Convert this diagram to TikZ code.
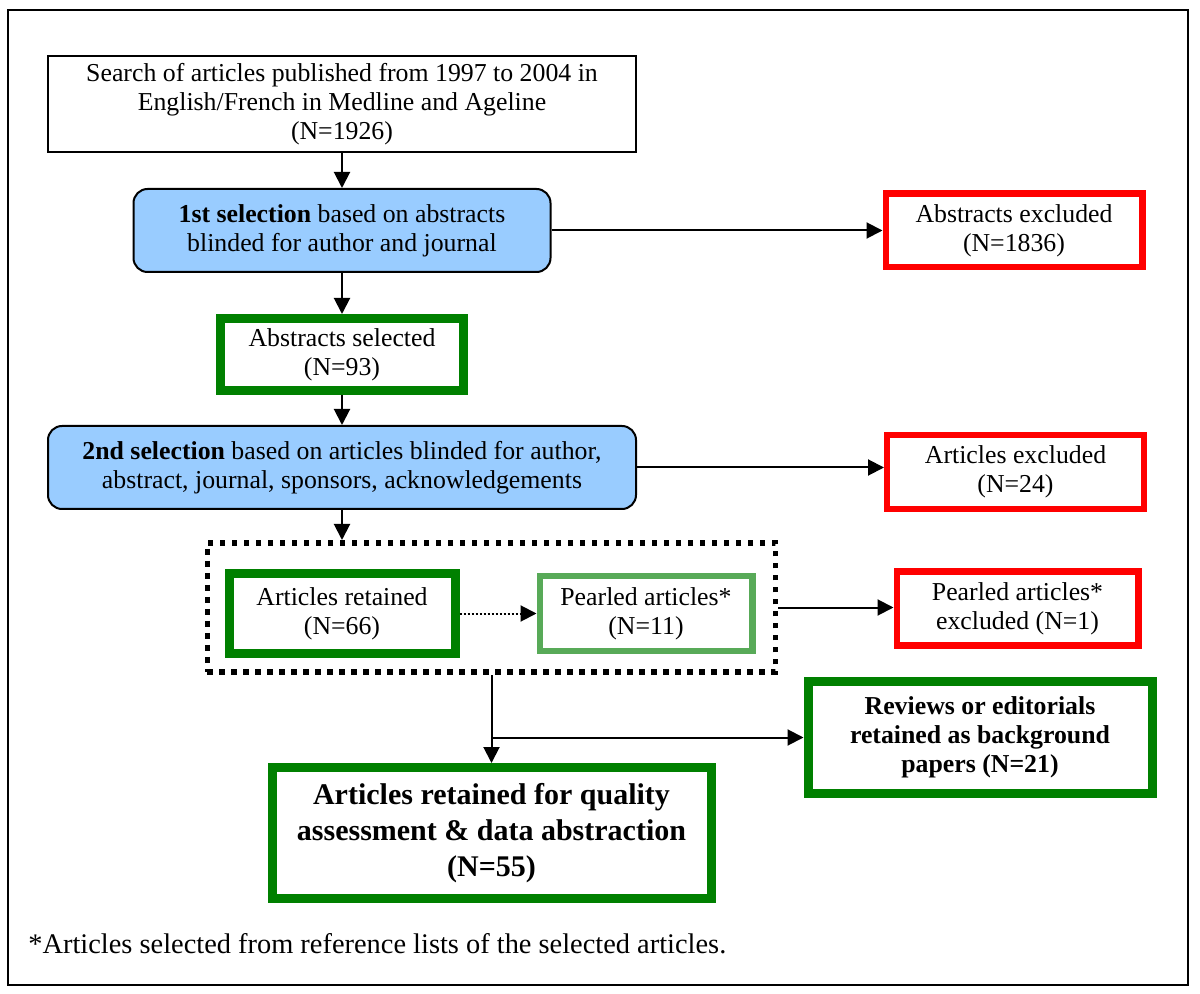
\documentclass[tikz,border=0pt]{standalone}
\usepackage{fontspec}
\setmainfont{Liberation Serif}
\usepackage{xcolor}
\usetikzlibrary{arrows.meta,positioning,fit}

\definecolor{selblue}{RGB}{153,204,255}
\definecolor{keepgreen}{RGB}{0,128,0}
\definecolor{pearlgreen}{RGB}{88,170,88}
\definecolor{dropred}{RGB}{255,0,0}

\begin{document}
\begin{tikzpicture}[
  x=0.5pt, y=-0.5pt,
  font=\fontsize{12.9}{14.5}\selectfont,
  plainbox/.style={draw, line width=1pt, align=center, inner sep=2pt},
  selbox/.style={rounded corners=7pt, draw, line width=1pt, fill=selblue, align=center, inner sep=2pt},
  keepbox/.style={draw=keepgreen, line width=4.5pt, align=center, inner sep=2pt},
  dropbox/.style={draw=dropred, line width=3.2pt, align=center, inner sep=2pt, minimum width=128.3pt, minimum height=36.8pt},
  arrow/.style={-{Triangle[length=8pt,width=8pt]}, line width=1pt}
]
  \useasboundingbox (0,0) rectangle (1200,994);
  \draw[line width=1pt] (8,10) rectangle (1188,985);

  % Main vertical flow
  \node[plainbox, minimum width=294pt, minimum height=48pt] (search) at (342,104) {Search of articles published from 1997 to 2004 in\\ English/French in Medline and Ageline\\ (N=1926)};
  \node[selbox, minimum width=208.5pt, minimum height=41.5pt, below=17.5pt of search] (sel1) {\textbf{1st selection} based on abstracts\\ blinded for author and journal};
  \node[keepbox, minimum width=121.5pt, minimum height=36pt, below=20.5pt of sel1] (abssel) {Abstracts selected\\ (N=93)};
  \node[selbox, minimum width=294pt, minimum height=41.5pt, below=15pt of abssel] (sel2) {\textbf{2nd selection} based on articles blinded for author,\\ abstract, journal, sponsors, acknowledgements};
  \node[keepbox, minimum width=113pt, minimum height=40pt, below=29.5pt of sel2] (retained) {Articles retained\\ (N=66)};
  \node[keepbox, draw=pearlgreen, line width=3.2pt, minimum width=106.3pt, minimum height=37.3pt, right=38.5pt of retained] (pearled) {Pearled articles*\\ (N=11)};
  \node[draw, line width=2.8pt, dash pattern=on 2.8pt off 3.2pt, inner xsep=9.3pt, inner ysep=10.1pt, xshift=0.75pt, yshift=3pt, fit=(retained)(pearled)] (dotbox) {};
  \node[keepbox, minimum width=219.5pt, minimum height=65.5pt, font=\fontsize{15}{18}\selectfont\bfseries, below=44pt of dotbox] (final) {Articles retained for quality\\ assessment \& data abstraction\\ (N=55)};

  % Exclusions and side outputs
  \node[dropbox, right=165.5pt of sel1] (absexcl) {Abstracts excluded\\ (N=1836)};
  \node[dropbox, right=123.5pt of sel2, yshift=-2.25pt] (artexcl) {Articles excluded\\ (N=24)};
  \node[dropbox, minimum width=120.8pt, right=69pt of pearled, yshift=2.5pt] (pexcl) {Pearled articles*\\ excluded (N=1)};
  \node[keepbox, minimum width=172pt, minimum height=56pt, font=\fontsize{12.9}{14.5}\selectfont\bfseries, right=44pt of final, yshift=47.75pt] (reviews) {Reviews or editorials\\ retained as background\\ papers (N=21)};

  % Footnote
  \node[anchor=base west, inner sep=0pt, font=\fontsize{14.2}{16}\selectfont] (note) at (28,953) {*Articles selected from reference lists of the selected articles.};

  \draw[arrow] (search) -- (sel1);
  \draw[arrow] (sel1) -- (absexcl);
  \draw[arrow] (sel1) -- (abssel);
  \draw[arrow] (abssel) -- (sel2);
  \draw[arrow] (sel2.east) -- (sel2.east -| artexcl.west);
  \draw[arrow] (sel2.south) -- (sel2.south |- dotbox.north);
  \draw[arrow, dash pattern=on 1pt off 1pt] (retained) -- (pearled);
  \draw[arrow] (dotbox.east) -- (dotbox.east -| pexcl.west);
  \draw[arrow] (dotbox.south) -- (final.north);
  \coordinate (fork) at (dotbox.south |- reviews.west);
  \draw[arrow] (fork) -- (reviews.west);
\end{tikzpicture}
\end{document}
